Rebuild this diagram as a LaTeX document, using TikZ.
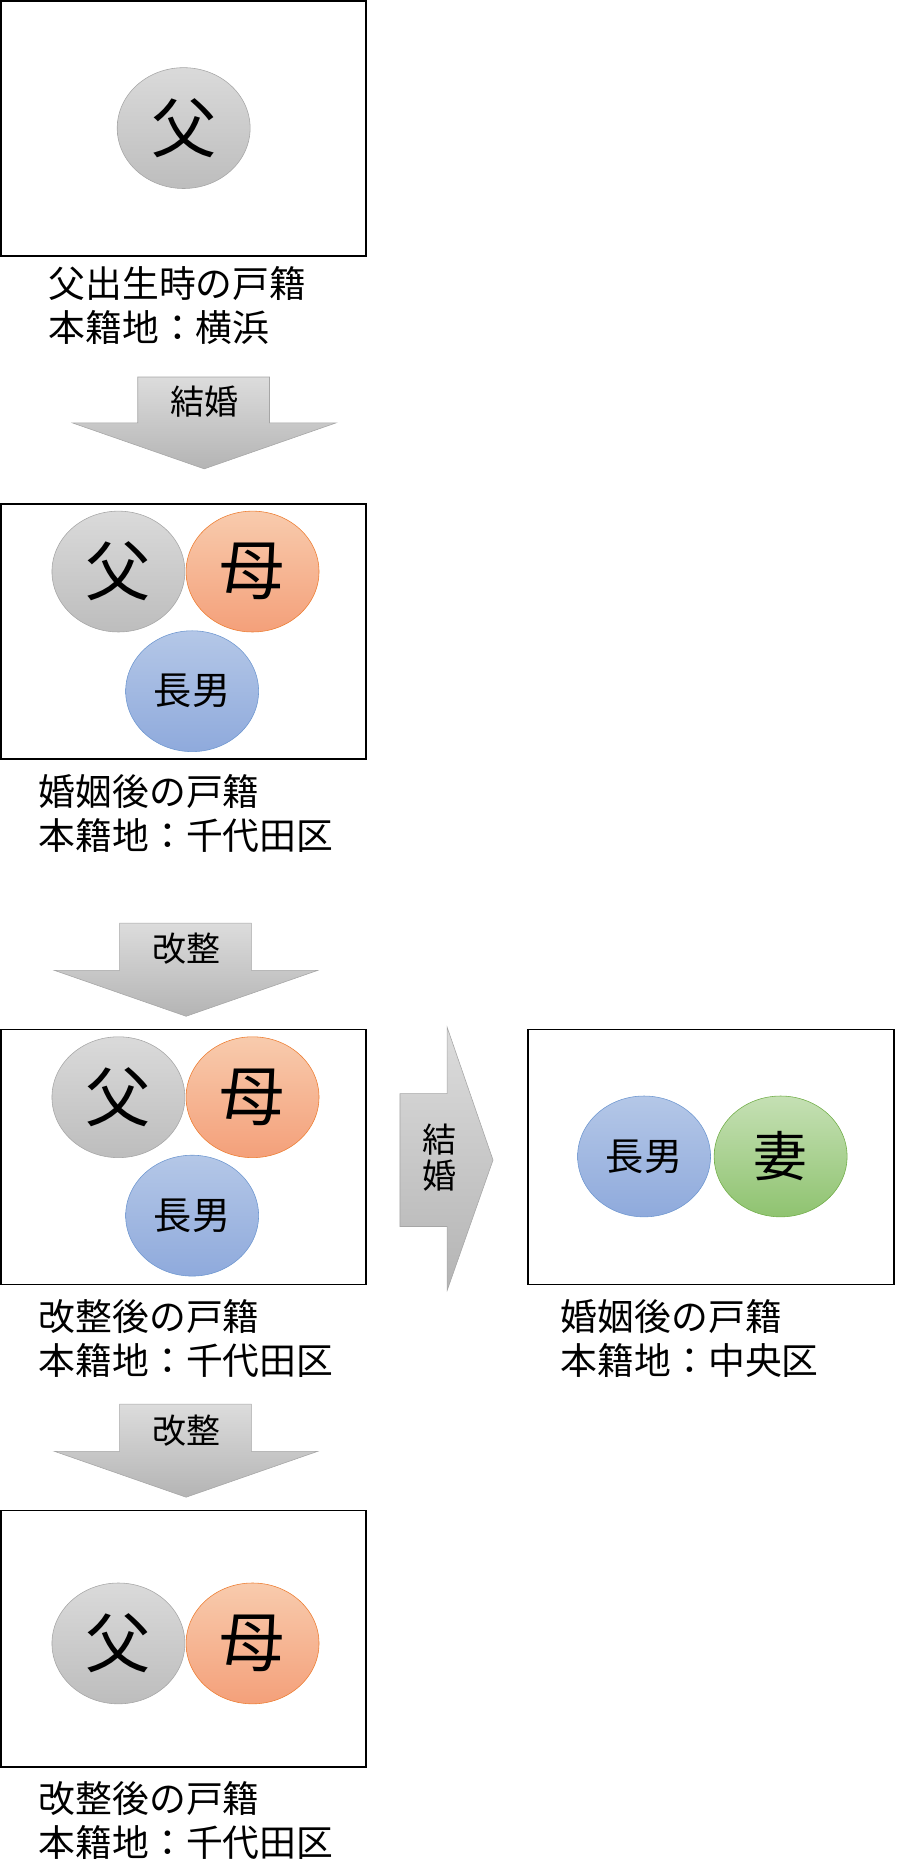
\documentclass[tikz,border=0pt]{standalone}
\usepackage{fontspec}
\newfontfamily\jp{Noto Sans CJK JP}
\usetikzlibrary{positioning, shapes.geometric}
\definecolor{grayT}{HTML}{DADADA}\definecolor{grayB}{HTML}{BDBDBD}\definecolor{grayL}{HTML}{A6A6A6}
\definecolor{oraT}{HTML}{F8CBAD}\definecolor{oraB}{HTML}{F4A07A}\definecolor{oraL}{HTML}{ED7D31}
\definecolor{bluT}{HTML}{B4C7E7}\definecolor{bluB}{HTML}{8FAADC}\definecolor{bluL}{HTML}{6E97D0}
\definecolor{grnT}{HTML}{C5E0B4}\definecolor{grnB}{HTML}{8FC370}\definecolor{grnL}{HTML}{70AD47}
\definecolor{arrT}{HTML}{DCDCDC}\definecolor{arrB}{HTML}{B4B4B4}
\tikzset{
  koseki/.style={draw, line width=1.2pt},
  person/.style={ellipse, minimum width=3.3cm, minimum height=3.0cm, inner sep=0pt},
  pgray/.style={person, draw=grayL, top color=grayT, bottom color=grayB},
  porange/.style={person, draw=oraL, top color=oraT, bottom color=oraB},
  pblue/.style={person, draw=bluL, top color=bluT, bottom color=bluB},
  pgreen/.style={person, draw=grnL, top color=grnT, bottom color=grnB},
  big/.style={font=\jp\fontsize{46}{46}\selectfont},
  small/.style={font=\jp\fontsize{27}{27}\selectfont},
  caption/.style={anchor=north west, align=left, inner sep=0pt, font=\jp\fontsize{26}{31}\selectfont},
  flow/.style={draw=grayL, top color=arrT, bottom color=arrB},
  flowtext/.style={font=\jp\fontsize{24}{26}\selectfont},
}
\begin{document}
\begin{tikzpicture}[x=0.03cm, y=-0.03cm]
  \useasboundingbox (0,0) rectangle (745,1550);

  % 父出生時
  \draw[koseki] (1,1) rectangle (303,212);
  \node[pgray, big] (f1) at (152,106) {父};
  \node[caption] (c1) at (40,220) {父出生時の戸籍\\本籍地：横浜};

  % 結婚
  \draw[flow] (114,312) -- (223,312) -- (223,350) -- (278,350) -- (169,388)
    -- (60,350) -- (114,350) -- cycle;
  \node[flowtext] (m1) at (169,332) {結婚};

  % 婚姻後
  \draw[koseki] (1,417) rectangle (303,628);
  \node[pgray, big] (f2) at (98,473) {父};
  \node[porange, big] (m2) at (209,473) {母};
  \node[pblue, small] (s2) at (159,572) {長男};
  \node[caption] (c2) at (32,641) {婚姻後の戸籍\\本籍地：千代田区};

  % 改整
  \draw[flow] (99,764) -- (208,764) -- (208,803) -- (263,803) -- (154,841)
    -- (45,803) -- (99,803) -- cycle;
  \node[flowtext] (k1) at (154,785) {改整};

  % 改整後
  \draw[koseki] (1,852) rectangle (303,1063);
  \node[pgray, big] (f3) at (98,908) {父};
  \node[porange, big] (m3) at (209,908) {母};
  \node[pblue, small] (s3) at (159,1006) {長男};
  \node[caption] (c3) at (32,1075) {改整後の戸籍\\本籍地：千代田区};

  % 長男の結婚
  \draw[flow] (331,905) -- (370,905) -- (370,850) -- (408,960) -- (370,1068)
    -- (370,1015) -- (331,1015) -- cycle;
  \node[flowtext, align=center] (m4) at (364,958) {結\\婚};

  \draw[koseki] (437,852) rectangle (740,1063);
  \node[pblue, small] (s4) at (533,957) {長男};
  \node[pgreen, big, font=\jp\fontsize{38}{38}\selectfont] (w4) at (646,957) {妻};
  \node[caption] (c4) at (464,1075) {婚姻後の戸籍\\本籍地：中央区};

  % 改整
  \draw[flow] (99,1162) -- (208,1162) -- (208,1201) -- (263,1201) -- (154,1239)
    -- (45,1201) -- (99,1201) -- cycle;
  \node[flowtext] (k2) at (154,1184) {改整};

  % 改整後
  \draw[koseki] (1,1250) rectangle (303,1462);
  \node[pgray, big] (f5) at (98,1360) {父};
  \node[porange, big] (m5) at (209,1360) {母};
  \node[caption] (c5) at (32,1474) {改整後の戸籍\\本籍地：千代田区};
\end{tikzpicture}
\end{document}
